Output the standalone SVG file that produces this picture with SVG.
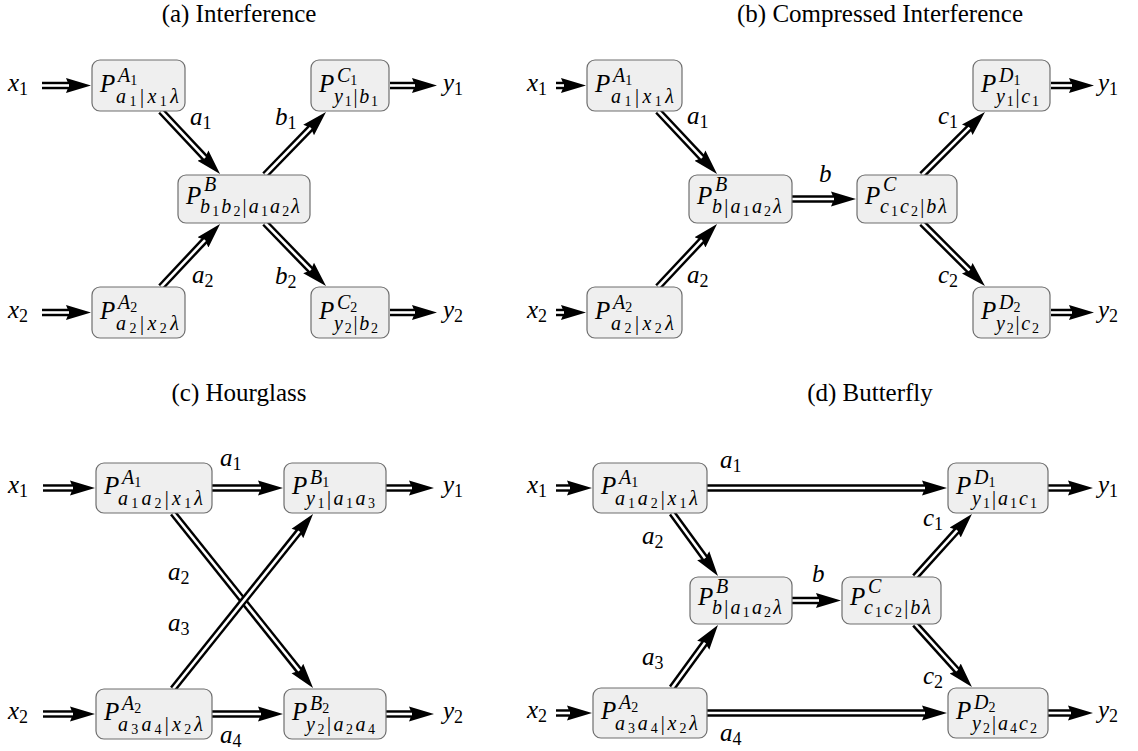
<svg xmlns="http://www.w3.org/2000/svg" width="1138" height="751" viewBox="0 0 1138 751">
<style>
text { font-family: "Liberation Serif", "Times New Roman", serif; fill: #000; }
.ttl { font-size: 25px; text-anchor: middle; }
.m { font-size: 25px; font-style: italic; }
.s { font-size: 20px; }
.i { font-style: italic; }
.ss { font-size: 14px; font-style: normal; }
.ls { font-size: 18px; font-style: normal; }
.node rect { fill: #efefef; stroke: #6e6e6e; stroke-width: 1.2; }
.o { fill: none; stroke: #000; stroke-width: 7.5; marker-end: url(#head); }
.w { fill: none; stroke: #fff; stroke-width: 2.6; }
</style>
<defs>
<marker id="head" markerUnits="userSpaceOnUse" viewBox="0 0 25 17" markerWidth="25" markerHeight="17" refX="3" refY="8.5" orient="auto">
<path d="M0,1 L25,8.5 L0,16 L3,8.5 Z" fill="#000"/>
</marker>
</defs>
<rect width="1138" height="751" fill="#fff"/>

<!-- captions -->
<text class="ttl" x="239" y="22">(a) Interference</text>
<text class="ttl" x="880" y="22">(b) Compressed Interference</text>
<text class="ttl" x="239" y="401">(c) Hourglass</text>
<text class="ttl" x="870" y="401">(d) Butterfly</text>

<!-- connectors: black double stroke with a white core, head from marker -->
<g id="connectors">
<!-- (a) -->
<g><path class="o" d="M42,85.5 L69,85.5"/><path class="w" d="M42,85.5 L69,85.5"/></g>
<g><path class="o" d="M161,111 L205,157.9"/><path class="w" d="M161,111 L205,157.9"/></g>
<g><path class="o" d="M265,175 L310.7,127.8"/><path class="w" d="M265,175 L310.7,127.8"/></g>
<g><path class="o" d="M161,287 L205,240.1"/><path class="w" d="M161,287 L205,240.1"/></g>
<g><path class="o" d="M265,223 L310.7,270.2"/><path class="w" d="M265,223 L310.7,270.2"/></g>
<g><path class="o" d="M390,85.5 L415,85.5"/><path class="w" d="M390,85.5 L415,85.5"/></g>
<g><path class="o" d="M42,312.5 L69,312.5"/><path class="w" d="M42,312.5 L69,312.5"/></g>
<g><path class="o" d="M390,312.5 L415,312.5"/><path class="w" d="M390,312.5 L415,312.5"/></g>
<!-- (b) -->
<g><path class="o" d="M556,85.5 L564,85.5"/><path class="w" d="M556,85.5 L564,85.5"/></g>
<g><path class="o" d="M658,111 L702,157.9"/><path class="w" d="M658,111 L702,157.9"/></g>
<g><path class="o" d="M658,287 L702,240.1"/><path class="w" d="M658,287 L702,240.1"/></g>
<g><path class="o" d="M792,199 L834,199"/><path class="w" d="M792,199 L834,199"/></g>
<g><path class="o" d="M922,175 L969.4,127.6"/><path class="w" d="M922,175 L969.4,127.6"/></g>
<g><path class="o" d="M922,223 L969.4,270.4"/><path class="w" d="M922,223 L969.4,270.4"/></g>
<g><path class="o" d="M1051,85.5 L1072,85.5"/><path class="w" d="M1051,85.5 L1072,85.5"/></g>
<g><path class="o" d="M556,312.5 L564,312.5"/><path class="w" d="M556,312.5 L564,312.5"/></g>
<g><path class="o" d="M1051,312.5 L1072,312.5"/><path class="w" d="M1051,312.5 L1072,312.5"/></g>
<!-- (c) -->
<g><path class="o" d="M43,488 L73,488"/><path class="w" d="M43,488 L73,488"/></g>
<g><path class="o" d="M212,488 L261,488"/><path class="w" d="M212,488 L261,488"/></g>
<g><path class="o" d="M386,488 L412,488"/><path class="w" d="M386,488 L412,488"/></g>
<g><path class="o" d="M173,513 L299.3,670.8"/><path class="w" d="M173,513 L299.3,670.8"/></g>
<g><path class="o" d="M173,689 L299.3,531.2"/><path class="w" d="M173,689 L299.3,531.2"/></g>
<g><path class="o" d="M212,714 L261,714"/><path class="w" d="M212,714 L261,714"/></g>
<g><path class="o" d="M43,714 L73,714"/><path class="w" d="M43,714 L73,714"/></g>
<g><path class="o" d="M386,714 L412,714"/><path class="w" d="M386,714 L412,714"/></g>
<!-- (d) -->
<g><path class="o" d="M556,488 L570,488"/><path class="w" d="M556,488 L570,488"/></g>
<g><path class="o" d="M707,488 L925,488"/><path class="w" d="M707,488 L925,488"/></g>
<g><path class="o" d="M1048,488 L1071,488"/><path class="w" d="M1048,488 L1071,488"/></g>
<g><path class="o" d="M672,513 L705,558.2"/><path class="w" d="M672,513 L705,558.2"/></g>
<g><path class="o" d="M672,688 L705,642.8"/><path class="w" d="M672,688 L705,642.8"/></g>
<g><path class="o" d="M792,600.5 L819,600.5"/><path class="w" d="M792,600.5 L819,600.5"/></g>
<g><path class="o" d="M915,577 L957.2,530.3"/><path class="w" d="M915,577 L957.2,530.3"/></g>
<g><path class="o" d="M915,624 L957.2,670.7"/><path class="w" d="M915,624 L957.2,670.7"/></g>
<g><path class="o" d="M707,713 L925,713"/><path class="w" d="M707,713 L925,713"/></g>
<g><path class="o" d="M1048,713 L1071,713"/><path class="w" d="M1048,713 L1071,713"/></g>
<g><path class="o" d="M556,713 L570,713"/><path class="w" d="M556,713 L570,713"/></g>
</g>

<!-- edge labels and terminals -->
<g id="labels">
<text class="m" x="8" y="90.5">x<tspan class="ls" dy="4">1</tspan></text>
<text class="m" x="8" y="317.5">x<tspan class="ls" dy="4">2</tspan></text>
<text class="m" x="443" y="90.5">y<tspan class="ls" dy="4">1</tspan></text>
<text class="m" x="443" y="317.5">y<tspan class="ls" dy="4">2</tspan></text>
<text class="m" x="190" y="125">a<tspan class="ls" dy="4">1</tspan></text>
<text class="m" x="275" y="125">b<tspan class="ls" dy="4">1</tspan></text>
<text class="m" x="192" y="283">a<tspan class="ls" dy="4">2</tspan></text>
<text class="m" x="275" y="284">b<tspan class="ls" dy="4">2</tspan></text>

<text class="m" x="527" y="90.5">x<tspan class="ls" dy="4">1</tspan></text>
<text class="m" x="527" y="317.5">x<tspan class="ls" dy="4">2</tspan></text>
<text class="m" x="1098" y="90.5">y<tspan class="ls" dy="4">1</tspan></text>
<text class="m" x="1098" y="317.5">y<tspan class="ls" dy="4">2</tspan></text>
<text class="m" x="687" y="124">a<tspan class="ls" dy="4">1</tspan></text>
<text class="m" x="687" y="283">a<tspan class="ls" dy="4">2</tspan></text>
<text class="m" x="819" y="182">b</text>
<text class="m" x="938" y="124">c<tspan class="ls" dy="4">1</tspan></text>
<text class="m" x="938" y="283">c<tspan class="ls" dy="4">2</tspan></text>

<text class="m" x="8" y="493">x<tspan class="ls" dy="4">1</tspan></text>
<text class="m" x="8" y="719">x<tspan class="ls" dy="4">2</tspan></text>
<text class="m" x="443" y="493">y<tspan class="ls" dy="4">1</tspan></text>
<text class="m" x="443" y="719">y<tspan class="ls" dy="4">2</tspan></text>
<text class="m" x="220" y="466">a<tspan class="ls" dy="4">1</tspan></text>
<text class="m" x="168" y="580">a<tspan class="ls" dy="4">2</tspan></text>
<text class="m" x="168" y="631">a<tspan class="ls" dy="4">3</tspan></text>
<text class="m" x="220" y="743">a<tspan class="ls" dy="4">4</tspan></text>

<text class="m" x="527" y="493">x<tspan class="ls" dy="4">1</tspan></text>
<text class="m" x="527" y="718">x<tspan class="ls" dy="4">2</tspan></text>
<text class="m" x="1098" y="493">y<tspan class="ls" dy="4">1</tspan></text>
<text class="m" x="1098" y="718">y<tspan class="ls" dy="4">2</tspan></text>
<text class="m" x="720" y="468">a<tspan class="ls" dy="4">1</tspan></text>
<text class="m" x="642" y="544">a<tspan class="ls" dy="4">2</tspan></text>
<text class="m" x="642" y="665">a<tspan class="ls" dy="4">3</tspan></text>
<text class="m" x="720" y="741">a<tspan class="ls" dy="4">4</tspan></text>
<text class="m" x="812" y="582">b</text>
<text class="m" x="923" y="526">c<tspan class="ls" dy="4">1</tspan></text>
<text class="m" x="923" y="684">c<tspan class="ls" dy="4">2</tspan></text>
</g>

<!-- (a) Interference -->
<g id="a-A1" class="node"><rect x="92" y="60" width="93" height="51" rx="8"/>
<text class="m" x="100" y="91.5">P</text>
<text class="s i" x="118" y="81.5">A<tspan class="ss" dy="3">1</tspan></text>
<text class="s" x="116" y="102.5" textLength="63"><tspan class="i">a</tspan><tspan class="ss" dy="3">1</tspan><tspan dy="-3">|</tspan><tspan class="i">x</tspan><tspan class="ss" dy="3">1</tspan><tspan class="i" dy="-3">λ</tspan></text></g>
<g id="a-B" class="node"><rect x="178" y="175" width="132" height="48" rx="8"/>
<text class="m" x="186" y="203.5">P</text>
<text class="s i" x="204" y="191">B</text>
<text class="s" x="200" y="212.5" textLength="100"><tspan class="i">b</tspan><tspan class="ss" dy="3">1</tspan><tspan class="i" dy="-3">b</tspan><tspan class="ss" dy="3">2</tspan><tspan dy="-3">|</tspan><tspan class="i">a</tspan><tspan class="ss" dy="3">1</tspan><tspan class="i" dy="-3">a</tspan><tspan class="ss" dy="3">2</tspan><tspan class="i" dy="-3">λ</tspan></text></g>
<g id="a-C1" class="node"><rect x="311" y="60" width="78" height="51" rx="8"/>
<text class="m" x="319" y="91.5">P</text>
<text class="s i" x="337" y="81.5">C<tspan class="ss" dy="3">1</tspan></text>
<text class="s" x="334" y="102.5" textLength="44"><tspan class="i">y</tspan><tspan class="ss" dy="3">1</tspan><tspan dy="-3">|</tspan><tspan class="i">b</tspan><tspan class="ss" dy="3">1</tspan></text></g>
<g id="a-A2" class="node"><rect x="92" y="287" width="93" height="51" rx="8"/>
<text class="m" x="100" y="318.5">P</text>
<text class="s i" x="118" y="308.5">A<tspan class="ss" dy="3">2</tspan></text>
<text class="s" x="116" y="329.5" textLength="63"><tspan class="i">a</tspan><tspan class="ss" dy="3">2</tspan><tspan dy="-3">|</tspan><tspan class="i">x</tspan><tspan class="ss" dy="3">2</tspan><tspan class="i" dy="-3">λ</tspan></text></g>
<g id="a-C2" class="node"><rect x="311" y="287" width="78" height="51" rx="8"/>
<text class="m" x="319" y="318.5">P</text>
<text class="s i" x="337" y="308.5">C<tspan class="ss" dy="3">2</tspan></text>
<text class="s" x="334" y="329.5" textLength="44"><tspan class="i">y</tspan><tspan class="ss" dy="3">2</tspan><tspan dy="-3">|</tspan><tspan class="i">b</tspan><tspan class="ss" dy="3">2</tspan></text></g>

<!-- (b) Compressed Interference -->
<g id="b-A1" class="node"><rect x="587" y="60" width="95" height="51" rx="8"/>
<text class="m" x="595" y="91.5">P</text>
<text class="s i" x="613" y="81.5">A<tspan class="ss" dy="3">1</tspan></text>
<text class="s" x="611" y="102.5" textLength="63"><tspan class="i">a</tspan><tspan class="ss" dy="3">1</tspan><tspan dy="-3">|</tspan><tspan class="i">x</tspan><tspan class="ss" dy="3">1</tspan><tspan class="i" dy="-3">λ</tspan></text></g>
<g id="b-A2" class="node"><rect x="587" y="287" width="95" height="51" rx="8"/>
<text class="m" x="595" y="318.5">P</text>
<text class="s i" x="613" y="308.5">A<tspan class="ss" dy="3">2</tspan></text>
<text class="s" x="611" y="329.5" textLength="63"><tspan class="i">a</tspan><tspan class="ss" dy="3">2</tspan><tspan dy="-3">|</tspan><tspan class="i">x</tspan><tspan class="ss" dy="3">2</tspan><tspan class="i" dy="-3">λ</tspan></text></g>
<g id="b-B" class="node"><rect x="689" y="175" width="103" height="48" rx="8"/>
<text class="m" x="697" y="203.5">P</text>
<text class="s i" x="715" y="191">B</text>
<text class="s" x="712" y="212.5" textLength="70"><tspan class="i">b</tspan><tspan>|</tspan><tspan class="i">a</tspan><tspan class="ss" dy="3">1</tspan><tspan class="i" dy="-3">a</tspan><tspan class="ss" dy="3">2</tspan><tspan class="i" dy="-3">λ</tspan></text></g>
<g id="b-C" class="node"><rect x="857" y="175" width="100" height="48" rx="8"/>
<text class="m" x="865" y="203.5">P</text>
<text class="s i" x="883" y="191">C</text>
<text class="s" x="880" y="212.5" textLength="67"><tspan class="i">c</tspan><tspan class="ss" dy="3">1</tspan><tspan class="i" dy="-3">c</tspan><tspan class="ss" dy="3">2</tspan><tspan dy="-3">|</tspan><tspan class="i">b</tspan><tspan class="i">λ</tspan></text></g>
<g id="b-D1" class="node"><rect x="973" y="60" width="77" height="51" rx="8"/>
<text class="m" x="981" y="91.5">P</text>
<text class="s i" x="999" y="81.5">D<tspan class="ss" dy="3">1</tspan></text>
<text class="s" x="996" y="102.5" textLength="43"><tspan class="i">y</tspan><tspan class="ss" dy="3">1</tspan><tspan dy="-3">|</tspan><tspan class="i">c</tspan><tspan class="ss" dy="3">1</tspan></text></g>
<g id="b-D2" class="node"><rect x="973" y="287" width="77" height="51" rx="8"/>
<text class="m" x="981" y="318.5">P</text>
<text class="s i" x="999" y="308.5">D<tspan class="ss" dy="3">2</tspan></text>
<text class="s" x="996" y="329.5" textLength="43"><tspan class="i">y</tspan><tspan class="ss" dy="3">2</tspan><tspan dy="-3">|</tspan><tspan class="i">c</tspan><tspan class="ss" dy="3">2</tspan></text></g>

<!-- (c) Hourglass -->
<g id="c-A1" class="node"><rect x="96" y="463" width="116" height="50" rx="8"/>
<text class="m" x="104" y="494">P</text>
<text class="s i" x="122" y="484">A<tspan class="ss" dy="3">1</tspan></text>
<text class="s" x="118" y="505" textLength="85"><tspan class="i">a</tspan><tspan class="ss" dy="3">1</tspan><tspan class="i" dy="-3">a</tspan><tspan class="ss" dy="3">2</tspan><tspan dy="-3">|</tspan><tspan class="i">x</tspan><tspan class="ss" dy="3">1</tspan><tspan class="i" dy="-3">λ</tspan></text></g>
<g id="c-B1" class="node"><rect x="284" y="463" width="102" height="50" rx="8"/>
<text class="m" x="292" y="494">P</text>
<text class="s i" x="310" y="484">B<tspan class="ss" dy="3">1</tspan></text>
<text class="s" x="306" y="505" textLength="69"><tspan class="i">y</tspan><tspan class="ss" dy="3">1</tspan><tspan dy="-3">|</tspan><tspan class="i">a</tspan><tspan class="ss" dy="3">1</tspan><tspan class="i" dy="-3">a</tspan><tspan class="ss" dy="3">3</tspan></text></g>
<g id="c-A2" class="node"><rect x="96" y="689" width="116" height="50" rx="8"/>
<text class="m" x="104" y="720">P</text>
<text class="s i" x="122" y="710">A<tspan class="ss" dy="3">2</tspan></text>
<text class="s" x="118" y="731" textLength="85"><tspan class="i">a</tspan><tspan class="ss" dy="3">3</tspan><tspan class="i" dy="-3">a</tspan><tspan class="ss" dy="3">4</tspan><tspan dy="-3">|</tspan><tspan class="i">x</tspan><tspan class="ss" dy="3">2</tspan><tspan class="i" dy="-3">λ</tspan></text></g>
<g id="c-B2" class="node"><rect x="284" y="689" width="102" height="50" rx="8"/>
<text class="m" x="292" y="720">P</text>
<text class="s i" x="310" y="710">B<tspan class="ss" dy="3">2</tspan></text>
<text class="s" x="306" y="731" textLength="69"><tspan class="i">y</tspan><tspan class="ss" dy="3">2</tspan><tspan dy="-3">|</tspan><tspan class="i">a</tspan><tspan class="ss" dy="3">2</tspan><tspan class="i" dy="-3">a</tspan><tspan class="ss" dy="3">4</tspan></text></g>

<!-- (d) Butterfly -->
<g id="d-A1" class="node"><rect x="593" y="463" width="114" height="50" rx="8"/>
<text class="m" x="601" y="494">P</text>
<text class="s i" x="619" y="484">A<tspan class="ss" dy="3">1</tspan></text>
<text class="s" x="615" y="505" textLength="83"><tspan class="i">a</tspan><tspan class="ss" dy="3">1</tspan><tspan class="i" dy="-3">a</tspan><tspan class="ss" dy="3">2</tspan><tspan dy="-3">|</tspan><tspan class="i">x</tspan><tspan class="ss" dy="3">1</tspan><tspan class="i" dy="-3">λ</tspan></text></g>
<g id="d-A2" class="node"><rect x="593" y="688" width="114" height="50" rx="8"/>
<text class="m" x="601" y="719">P</text>
<text class="s i" x="619" y="709">A<tspan class="ss" dy="3">2</tspan></text>
<text class="s" x="615" y="730" textLength="83"><tspan class="i">a</tspan><tspan class="ss" dy="3">3</tspan><tspan class="i" dy="-3">a</tspan><tspan class="ss" dy="3">4</tspan><tspan dy="-3">|</tspan><tspan class="i">x</tspan><tspan class="ss" dy="3">2</tspan><tspan class="i" dy="-3">λ</tspan></text></g>
<g id="d-B" class="node"><rect x="690" y="577" width="102" height="47" rx="8"/>
<text class="m" x="698" y="605">P</text>
<text class="s i" x="716" y="592.5">B</text>
<text class="s" x="712" y="614" textLength="70"><tspan class="i">b</tspan><tspan>|</tspan><tspan class="i">a</tspan><tspan class="ss" dy="3">1</tspan><tspan class="i" dy="-3">a</tspan><tspan class="ss" dy="3">2</tspan><tspan class="i" dy="-3">λ</tspan></text></g>
<g id="d-C" class="node"><rect x="842" y="577" width="99" height="47" rx="8"/>
<text class="m" x="850" y="605">P</text>
<text class="s i" x="868" y="592.5">C</text>
<text class="s" x="864" y="614" textLength="67"><tspan class="i">c</tspan><tspan class="ss" dy="3">1</tspan><tspan class="i" dy="-3">c</tspan><tspan class="ss" dy="3">2</tspan><tspan dy="-3">|</tspan><tspan class="i">b</tspan><tspan class="i">λ</tspan></text></g>
<g id="d-D1" class="node"><rect x="948" y="463" width="100" height="50" rx="8"/>
<text class="m" x="956" y="494">P</text>
<text class="s i" x="974" y="484">D<tspan class="ss" dy="3">1</tspan></text>
<text class="s" x="972" y="505" textLength="65"><tspan class="i">y</tspan><tspan class="ss" dy="3">1</tspan><tspan dy="-3">|</tspan><tspan class="i">a</tspan><tspan class="ss" dy="3">1</tspan><tspan class="i" dy="-3">c</tspan><tspan class="ss" dy="3">1</tspan></text></g>
<g id="d-D2" class="node"><rect x="948" y="688" width="100" height="50" rx="8"/>
<text class="m" x="956" y="719">P</text>
<text class="s i" x="974" y="709">D<tspan class="ss" dy="3">2</tspan></text>
<text class="s" x="972" y="730" textLength="65"><tspan class="i">y</tspan><tspan class="ss" dy="3">2</tspan><tspan dy="-3">|</tspan><tspan class="i">a</tspan><tspan class="ss" dy="3">4</tspan><tspan class="i" dy="-3">c</tspan><tspan class="ss" dy="3">2</tspan></text></g>
</svg>
